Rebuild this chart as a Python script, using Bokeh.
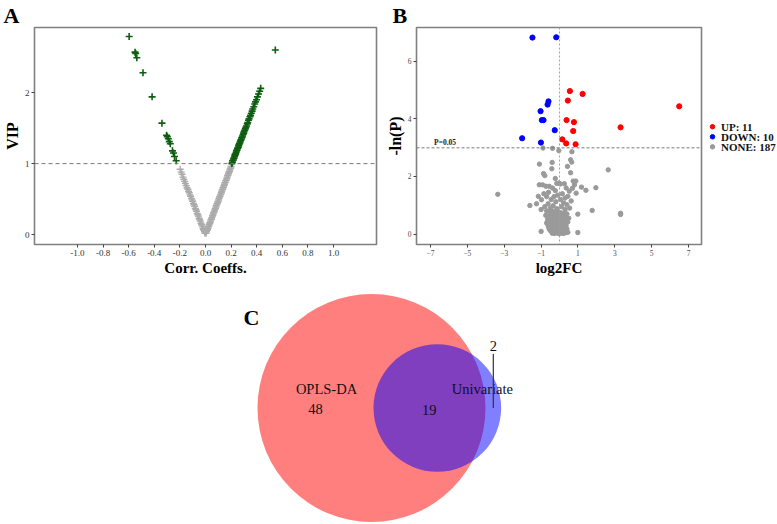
import math
from bokeh.plotting import figure
from bokeh.layouts import column, row
from bokeh.models import FixedTicker, PrintfTickFormatter, Span, Range1d
from bokeh.embed import file_html
from bokeh.resources import INLINE
from bokeh.core.properties import value

SERIF = "Liberation Serif"

# ---------------- Panel A data (Corr. Coeffs. vs VIP) ----------------
a_sig_left_corr = [-0.596, -0.550, -0.545, -0.536, -0.488, -0.417, -0.340, -0.304,
                   -0.298, -0.290, -0.283, -0.275, -0.258, -0.250, -0.242, -0.229]
a_sig_left_vip = [2.79, 2.57, 2.55, 2.49, 2.28, 1.94, 1.57, 1.40,
                  1.38, 1.35, 1.31, 1.28, 1.18, 1.15, 1.10, 1.04]
a_sig_right_corr = [0.206, 0.210, 0.212, 0.217, 0.220, 0.223, 0.227, 0.230, 0.232, 0.236,
                    0.239, 0.243, 0.245, 0.250, 0.252, 0.256, 0.259, 0.261, 0.265, 0.268,
                    0.271, 0.275, 0.279, 0.282, 0.286, 0.289, 0.294, 0.298, 0.301, 0.306,
                    0.311, 0.315, 0.320, 0.326, 0.330, 0.336, 0.340, 0.347, 0.352, 0.358,
                    0.364, 0.369, 0.377, 0.384, 0.390, 0.398, 0.405, 0.414, 0.423, 0.431]
a_sig_right_vip = [1.00, 1.02, 1.04, 1.05, 1.07, 1.08, 1.10, 1.12, 1.13, 1.14,
                   1.16, 1.18, 1.19, 1.21, 1.22, 1.23, 1.25, 1.27, 1.28, 1.29,
                   1.31, 1.33, 1.34, 1.36, 1.37, 1.39, 1.41, 1.43, 1.45, 1.47,
                   1.49, 1.51, 1.53, 1.56, 1.58, 1.61, 1.63, 1.66, 1.68, 1.71,
                   1.74, 1.77, 1.80, 1.84, 1.87, 1.90, 1.94, 1.98, 2.02, 2.06]
a_sig_out_corr = [0.545]
a_sig_out_vip = [2.60]
a_ns_corr = [-0.198, -0.190, -0.183, -0.176, -0.170, -0.163, -0.157, -0.150, -0.144, -0.138,
             -0.132, -0.127, -0.121, -0.116, -0.110, -0.105, -0.100, -0.095, -0.090, -0.085,
             -0.080, -0.075, -0.070, -0.065, -0.060, -0.055, -0.050, -0.045, -0.040, -0.035,
             -0.030, -0.025, -0.020, -0.016, -0.012, -0.008, -0.004,
             0.004, 0.008, 0.012, 0.015, 0.019, 0.022, 0.026, 0.029, 0.033, 0.036,
             0.040, 0.043, 0.047, 0.050, 0.054, 0.057, 0.061, 0.064, 0.068, 0.071,
             0.075, 0.078, 0.082, 0.085, 0.089, 0.092, 0.096, 0.099, 0.103, 0.106,
             0.110, 0.113, 0.117, 0.120, 0.124, 0.127, 0.131, 0.134, 0.138, 0.141,
             0.145, 0.148, 0.152, 0.155, 0.159, 0.162, 0.166, 0.169, 0.173, 0.176,
             0.180, 0.183, 0.187, 0.190, 0.194, 0.197, 0.200]
a_ns_vip = [0.92, 0.88, 0.85, 0.81, 0.78, 0.75, 0.72, 0.69, 0.66, 0.64,
            0.61, 0.59, 0.56, 0.54, 0.51, 0.49, 0.47, 0.44, 0.42, 0.40,
            0.37, 0.35, 0.33, 0.30, 0.28, 0.26, 0.23, 0.21, 0.19, 0.16,
            0.14, 0.12, 0.09, 0.07, 0.06, 0.04, 0.02,
            0.02, 0.04, 0.06, 0.07, 0.09, 0.11, 0.12, 0.14, 0.16, 0.17,
            0.19, 0.21, 0.22, 0.24, 0.26, 0.27, 0.29, 0.31, 0.32, 0.34,
            0.36, 0.37, 0.39, 0.41, 0.43, 0.44, 0.46, 0.47, 0.49, 0.51,
            0.53, 0.54, 0.56, 0.57, 0.59, 0.61, 0.63, 0.64, 0.66, 0.67,
            0.69, 0.71, 0.73, 0.74, 0.76, 0.77, 0.79, 0.81, 0.83, 0.84,
            0.86, 0.88, 0.89, 0.91, 0.93, 0.94, 0.96]
a_xticks = [-1.0, -0.8, -0.6, -0.4, -0.2, 0.0, 0.2, 0.4, 0.6, 0.8, 1.0]
a_yticks = [0, 1, 2]
vip_cut = 1.0

# ---------------- Panel B data (volcano) ----------------
up_fc = [0.56, 1.25, 0.45, 6.49, 0.38, 0.78, 3.31, 0.74, 0.15, 0.36, 0.87]
up_nlp = [4.97, 4.87, 4.64, 4.44, 3.96, 3.89, 3.71, 3.58, 3.29, 3.15, 3.12]
down_fc = [-1.47, -0.18, -0.60, -0.65, -1.03, -0.96, -0.87, -0.26, -2.03, -1.01]
down_nlp = [6.83, 6.84, 4.61, 4.50, 4.27, 3.96, 3.96, 3.61, 3.33, 3.18]
none_fc = [-3.35, -1.61, 2.64, 1.97, 1.77, 3.31, 3.31, 0.99, 0.99, 1.43, 1.19, 0.74, 0.88, 0.70,
           0.67, 0.60, 0.66, 0.43, 0.60, -0.38, -0.90, -0.04, -1.09, -0.40, -0.42, -0.87, -0.80, -0.23,
           -1.10, -0.92, -0.74, -0.56, -0.38, -0.23, -0.15, -0.05, 0.05, 0.26, 0.36, 0.53, 0.81, 0.90,
           0.45, 0.63, -1.15, -0.98, -1.25, -0.60, -0.70, -0.85, 0.15, 0.30, -0.10, -0.30, 0.05, -0.45,
           -0.20, 0.22, 0.40, -0.62, -0.80, -1.00, -0.35, 0.10, 0.55, -0.50, -0.15, 0.30,
           -0.70, -0.55, -0.40, -0.25, -0.10, 0.05, 0.20, 0.40,
           -0.75, -0.60, -0.45, -0.30, -0.15, 0.00, 0.15, 0.30, 0.50,
           -0.65, -0.50, -0.35, -0.20, -0.05, 0.10, 0.25, 0.45,
           -0.70, -0.55, -0.42, -0.28, -0.12, 0.02, 0.18, 0.35,
           -0.60, -0.45, -0.32, -0.18, -0.05, 0.08, 0.22, 0.40,
           -0.50, -0.38, -0.25, -0.12, 0.00, 0.12, 0.28, 0.45,
           -0.40, -0.28, -0.15, -0.02, 0.10, 0.22, -1.00, -0.64, -0.56,
           -0.35, -0.22, -0.08, 0.08, 0.25, -0.48, -0.02, 0.35, -0.40, -0.25,
           0.05, 0.30, -0.35, -0.20, 0.15, -0.08, 0.18, 0.35, -0.30, 0.05]
none_nlp = [1.38, 0.99, 2.23, 1.61, 0.82, 0.72, 0.68, 0.69, 0.05, 1.52, 1.63, 1.84, 1.84, 1.59,
            2.86, 2.58, 2.50, 2.35, 2.13, 2.98, 2.99, 2.90, 2.43, 2.49, 2.27, 2.10, 2.03, 1.93,
            1.71, 1.71, 1.66, 1.66, 1.60, 1.51, 1.76, 1.77, 1.74, 1.75, 1.60, 1.49, 1.71, 1.42,
            1.31, 1.15, 1.31, 1.19, 1.05, 1.45, 1.30, 1.40, 1.40, 1.25, 1.35, 1.30, 1.20, 1.20,
            1.12, 1.08, 1.02, 1.05, 0.95, 0.85, 0.98, 0.95, 0.90, 0.90, 0.88, 0.85,
            0.80, 0.78, 0.80, 0.76, 0.78, 0.74, 0.72, 0.70,
            0.65, 0.62, 0.66, 0.63, 0.60, 0.62, 0.58, 0.60, 0.55,
            0.50, 0.48, 0.52, 0.47, 0.50, 0.45, 0.48, 0.42,
            0.38, 0.35, 0.38, 0.34, 0.37, 0.33, 0.36, 0.30,
            0.25, 0.22, 0.26, 0.21, 0.24, 0.20, 0.23, 0.18,
            0.12, 0.10, 0.14, 0.09, 0.12, 0.08, 0.11, 0.06,
            0.03, 0.02, 0.04, 0.01, 0.03, 0.02, 0.09, 0.34, 0.17,
            0.70, 0.68, 0.66, 0.68, 0.66, 0.58, 0.55, 0.52, 0.44, 0.40,
            0.40, 0.40, 0.16, 0.30, 0.28, 0.15, 0.14, 0.05, 0.08, 0.06]
b_xticks = [-7, -5, -3, -1, 1, 3, 5, 7]
b_yticks = [0, 2, 4, 6]
p_cut = 0.05
fc_cut = 0.0
legend_names = ["UP", "DOWN", "NONE"]
legend_counts = [11, 10, 187]
legend_colors = ["#ff0000", "#0000ff", "#9a9a9a"]

# ---------------- Panel C data (Venn) ----------------
venn_names = ["OPLS-DA", "Univariate"]
venn_only_a = 48
venn_both = 19
venn_only_b = 2

# =====================================================================
GREEN = "#0d5e10"
GREY_A = "#ababab"
GREY_B = "#9a9a9a"
FRAME = "#808080"
ROW_H = 280


def style_axes(p, font_size, label_color):
    p.grid.visible = False
    p.outline_line_color = FRAME
    p.outline_line_width = 1.6
    p.axis.axis_line_color = None
    p.axis.major_tick_in = 0
    p.axis.major_tick_out = 3
    p.axis.major_tick_line_color = "#444444"
    p.axis.minor_tick_line_color = None
    p.axis.major_label_text_font = SERIF
    p.axis.major_label_text_font_size = font_size
    p.axis.major_label_text_color = label_color
    p.axis.major_label_standoff = 2
    p.axis.axis_label_text_font = SERIF
    p.axis.axis_label_text_font_style = "bold"
    p.axis.axis_label_text_color = "black"
    p.axis.axis_label_standoff = 1


def panel_letter(p, letter, offset):
    p.title.text = letter
    p.title.align = "left"
    p.title.offset = offset
    p.title.standoff = 0
    p.title.text_font = SERIF
    p.title.text_font_size = "22px"
    p.title.text_font_style = "bold"
    p.title.text_color = "black"
    p.title.text_line_height = 0.7


# ---------------- Panel A ----------------
A_W = 379
pA = figure(width=A_W, height=ROW_H, output_backend="svg", toolbar_location=None,
            x_range=Range1d(-1.335, 1.335), y_range=Range1d(-0.139, 2.917),
            min_border_left=29, min_border_right=3, min_border_top=24,
            min_border_bottom=36)
style_axes(pA, "9px", "#333333")
panel_letter(pA, "A", -31)
pA.xaxis.ticker = FixedTicker(ticks=a_xticks)
pA.xaxis.formatter = PrintfTickFormatter(format="%.1f")
pA.yaxis.ticker = FixedTicker(ticks=a_yticks)
pA.xaxis.axis_label = "Corr. Coeffs."
pA.yaxis.axis_label = "VIP"
pA.xaxis.axis_label_text_font_size = "15px"
pA.yaxis.axis_label_text_font_size = "16px"
pA.add_layout(Span(location=vip_cut, dimension="width", line_color="#7a7a7a",
                   line_dash="4 3", line_width=1))
pA.scatter(a_ns_corr, a_ns_vip, marker="cross", size=7, line_color=GREY_A, line_width=1.4)
pA.scatter(a_sig_left_corr + a_sig_right_corr + a_sig_out_corr,
           a_sig_left_vip + a_sig_right_vip + a_sig_out_vip,
           marker="cross", size=7, line_color=GREEN, line_width=1.6)

# ---------------- Panel B ----------------
B_W = 704 - A_W
pB = figure(width=B_W, height=ROW_H, output_backend="svg", toolbar_location=None,
            x_range=Range1d(-7.76, 7.70), y_range=Range1d(-0.365, 7.18),
            min_border_left=37, min_border_right=3, min_border_top=23,
            min_border_bottom=36)
style_axes(pB, "7.5px", "#4d4d4d")
panel_letter(pB, "B", -24)
pB.xaxis.ticker = FixedTicker(ticks=b_xticks)
pB.yaxis.ticker = FixedTicker(ticks=b_yticks)
pB.xaxis.axis_label = "log2FC"
pB.yaxis.axis_label = "-ln(P)"
pB.xaxis.axis_label_text_font_size = "15px"
pB.yaxis.axis_label_text_font_size = "16px"
p_line = -math.log(p_cut)
pB.add_layout(Span(location=p_line, dimension="width", line_color="#7a7a7a",
                   line_dash="3 2", line_width=1))
pB.add_layout(Span(location=fc_cut, dimension="height", line_color="#a0a0a0",
                   line_dash="2 2", line_width=1))
pB.scatter(none_fc, none_nlp, size=4.4, color=GREY_B)
pB.scatter(down_fc, down_nlp, size=5.2, color=legend_colors[1])
pB.scatter(up_fc, up_nlp, size=5.2, color=legend_colors[0])
pB.text(x=[pB.x_range.start + 1.55], y=[p_line], text=["P=0.05"],
        text_font=value(SERIF), text_font_size="7.5px", text_font_style="bold",
        text_align="center", text_baseline="bottom", y_offset=-1, text_color="#222222")

# ---------------- Legend strip for panel B ----------------
L_W = 777 - 704
pL = figure(width=L_W, height=ROW_H, output_backend="svg", toolbar_location=None,
            x_range=Range1d(704, 777), y_range=Range1d(ROW_H, 0),
            x_axis_location=None, y_axis_location=None,
            min_border=0, min_border_left=0, min_border_right=0,
            min_border_top=0, min_border_bottom=0)
pL.outline_line_color = None
pL.grid.visible = False
leg_rows = [128 + 13 * i for i in range(len(legend_names))]
pL.scatter(x=[712] * len(leg_rows), y=leg_rows, size=4.5, color=legend_colors)
pL.text(x=[720.5] * len(leg_rows), y=leg_rows,
        text=[f"{n}: {c}" for n, c in zip(legend_names, legend_counts)],
        text_font=value(SERIF), text_font_size="11px", text_font_style="bold",
        text_baseline="middle", text_align="left", text_color="#111111")

# ---------------- Panel C (Venn) ----------------
C_H = 524 - ROW_H
pC = figure(width=777, height=C_H, output_backend="svg", toolbar_location=None,
            x_range=Range1d(0, 777), y_range=Range1d(524, ROW_H),
            x_axis_location=None, y_axis_location=None,
            min_border=0, min_border_left=0, min_border_right=0,
            min_border_top=0, min_border_bottom=0)
pC.outline_line_color = None
pC.grid.visible = False

total_a = venn_only_a + venn_both
total_b = venn_only_b + venn_both
r_a = 114.0
px_per_item = math.pi * r_a ** 2 / total_a
r_b = math.sqrt(px_per_item * total_b / math.pi)
target = px_per_item * venn_both


def lens(d, r1, r2):
    a1 = r1 ** 2 * math.acos((d * d + r1 * r1 - r2 * r2) / (2 * d * r1))
    a2 = r2 ** 2 * math.acos((d * d + r2 * r2 - r1 * r1) / (2 * d * r2))
    k = 0.5 * math.sqrt(max(0.0, (-d + r1 + r2) * (d + r1 - r2) * (d - r1 + r2) * (d + r1 + r2)))
    return a1 + a2 - k


lo, hi = r_a - r_b + 1e-6, r_a + r_b - 1e-6
for _ in range(100):
    mid = 0.5 * (lo + hi)
    if lens(mid, r_a, r_b) > target:
        lo = mid
    else:
        hi = mid
dist = 0.5 * (lo + hi)

cxa, cy = 371.0, 407.5
cxb = cxa + dist
pC.circle(x=[cxa], y=[cy], radius=r_a, fill_color="#ff0000", fill_alpha=0.5, line_color=None)
pC.circle(x=[cxb], y=[cy], radius=r_b, fill_color="#0000ff", fill_alpha=0.5, line_color=None)

pC.text(x=[cxa - 45, cxb + 45], y=[cy - 19, cy - 19], text=venn_names,
        text_font=value(SERIF), text_font_size="14.5px", text_align="center",
        text_baseline="middle", text_color="#111111")
pC.text(x=[cxa - 56, cxb - 8], y=[cy + 1, cy + 2],
        text=[str(venn_only_a), str(venn_both)],
        text_font=value(SERIF), text_font_size="14.5px", text_align="center",
        text_baseline="middle", text_color="#111111")
pC.text(x=[cxb + 56], y=[cy - 62], text=[str(venn_only_b)],
        text_font=value(SERIF), text_font_size="14.5px", text_align="center",
        text_baseline="middle", text_color="#111111")
pC.segment(x0=[cxb + 56], y0=[cy - 54], x1=[cxb + 56], y1=[cy + 0],
           line_color="#333333", line_width=1.2)
pC.text(x=[243], y=[317], text=["C"], text_font=value(SERIF), text_font_size="22px",
        text_font_style="bold", text_align="left", text_baseline="alphabetic",
        text_color="black")

layout = column(row(pA, pB, pL), pC)
open("out.html", "w").write(file_html(layout, INLINE))
